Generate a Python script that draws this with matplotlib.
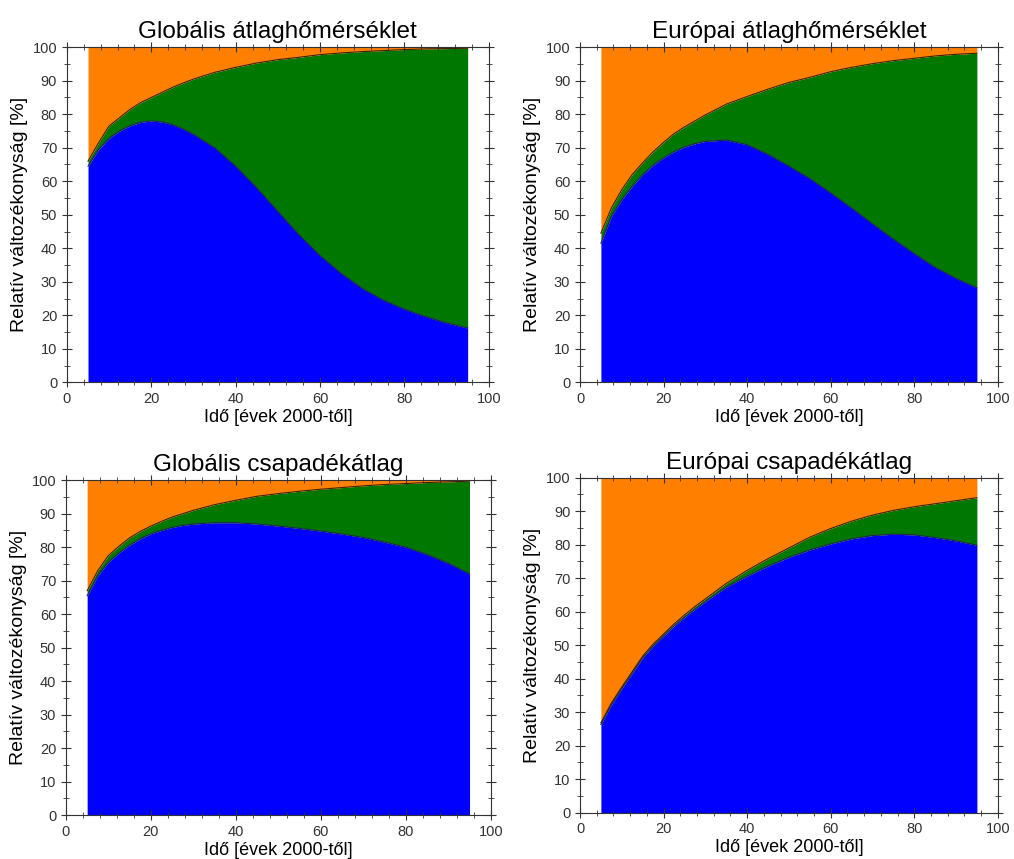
import numpy as np
import matplotlib.pyplot as plt
from matplotlib.ticker import MultipleLocator

plt.rcParams['font.family'] = ['Liberation Sans', 'DejaVu Sans']

years = [5, 7.5, 10, 12.5, 15, 17.5, 20, 22.5, 25, 27.5, 30,
         35, 40, 45, 50, 55, 60, 65, 70, 75, 80, 85, 90, 95]

titles = ["Globális átlaghőmérséklet", "Európai átlaghőmérséklet",
          "Globális csapadékátlag", "Európai csapadékátlag"]

# blue share (bottom) and blue+green cumulative share, orange fills to 100
glob_temp_blue = [64.5, 69.5, 72.8, 75, 76.6, 77.6, 78, 77.7, 76.9, 75.6, 74,
                  70, 64.5, 58, 51, 44, 37.8, 32.5, 28, 24.5, 21.8, 19.6, 17.7, 16.2]
glob_temp_top = [66, 71.5, 76.5, 79, 81.5, 83.5, 85, 86.5, 88, 89.3, 90.5,
                 92.5, 94, 95.3, 96.3, 97, 97.8, 98.3, 98.7, 99, 99.3, 99.5, 99.6, 99.7]

eu_temp_blue = [41.5, 49.5, 54.5, 58.5, 62, 64.8, 67, 68.8, 70.2, 71.2, 71.9,
                72.3, 70.9, 68, 64.5, 60.8, 56.5, 52, 47.3, 42.7, 38.4, 34.3, 31, 28.2]
eu_temp_top = [44.5, 52, 57.5, 62, 65.5, 68.8, 71.6, 74.2, 76.2, 78, 79.8,
               83, 85.3, 87.5, 89.5, 91, 92.7, 94, 95.1, 96, 96.7, 97.4, 97.9, 98.2]

glob_prec_blue = [65.5, 71.5, 75.5, 78.3, 80.6, 82.5, 84, 85, 85.9, 86.5, 86.9,
                  87.3, 87.3, 86.9, 86.3, 85.6, 84.8, 83.9, 82.9, 81.5, 80, 77.8, 75.2, 72]
glob_prec_top = [67, 73, 77.5, 80.3, 82.8, 84.7, 86.3, 87.7, 89, 90, 91,
                 92.7, 94, 95.2, 96, 96.7, 97.3, 97.8, 98.3, 98.7, 99, 99.3, 99.5, 99.7]

eu_prec_blue = [26.3, 32.2, 37, 41.6, 46.2, 49.7, 52.7, 55.7, 58.3, 60.7, 63,
                67.3, 70.6, 73.6, 76.2, 78.4, 80.2, 81.7, 82.7, 83.1, 82.9, 82.1, 81.1, 79.8]
eu_prec_top = [26.8, 32.7, 37.5, 42.1, 46.7, 50.3, 53.3, 56.3, 59, 61.5, 63.8,
               68.4, 72.3, 75.8, 79, 82.2, 84.8, 87, 88.8, 90.2, 91.3, 92.2, 93.1, 94]

panels = [(glob_temp_blue, glob_temp_top), (eu_temp_blue, eu_temp_top),
          (glob_prec_blue, glob_prec_top), (eu_prec_blue, eu_prec_top)]

positions = [[0.066, 0.555, 0.416, 0.390], [0.572, 0.555, 0.412, 0.390],
             [0.065, 0.051, 0.419, 0.390], [0.572, 0.054, 0.412, 0.390]]

fig = plt.figure(figsize=(10.14, 8.59), dpi=100)
x = np.array(years)
for pos, title, (blue, top) in zip(positions, titles, panels):
    ax = fig.add_axes(pos)
    blue = np.array(blue)
    top = np.array(top)
    ax.fill_between(x, 0, blue, color='#0000ff', lw=0)
    ax.fill_between(x, blue, top, color='#007800', lw=0)
    ax.fill_between(x, top, 100, color='#ff8000', lw=0)
    ax.plot(x, blue, color='#202060', lw=0.8)
    ax.plot(x, top, color='#402000', lw=0.8)
    ax.set_xlim(0, 100)
    ax.set_ylim(0, 100)
    ax.xaxis.set_major_locator(MultipleLocator(20))
    ax.xaxis.set_minor_locator(MultipleLocator(4))
    ax.yaxis.set_major_locator(MultipleLocator(10))
    ax.yaxis.set_minor_locator(MultipleLocator(5))
    ax.tick_params(which='both', direction='inout', top=True, right=True,
                   labelsize=10.5, colors='#333333')
    ax.tick_params(which='major', length=7)
    ax.tick_params(which='minor', length=4)
    for s in ax.spines.values():
        s.set_color('#333333')
    ax.set_title(title, fontsize=17.5, pad=6.5)
    ax.set_xlabel("Idő [évek 2000-től]", fontsize=13, labelpad=2)
    ax.set_ylabel("Relatív változékonyság [%]", fontsize=14, labelpad=3)

fig.savefig('out.png', dpi=100)
